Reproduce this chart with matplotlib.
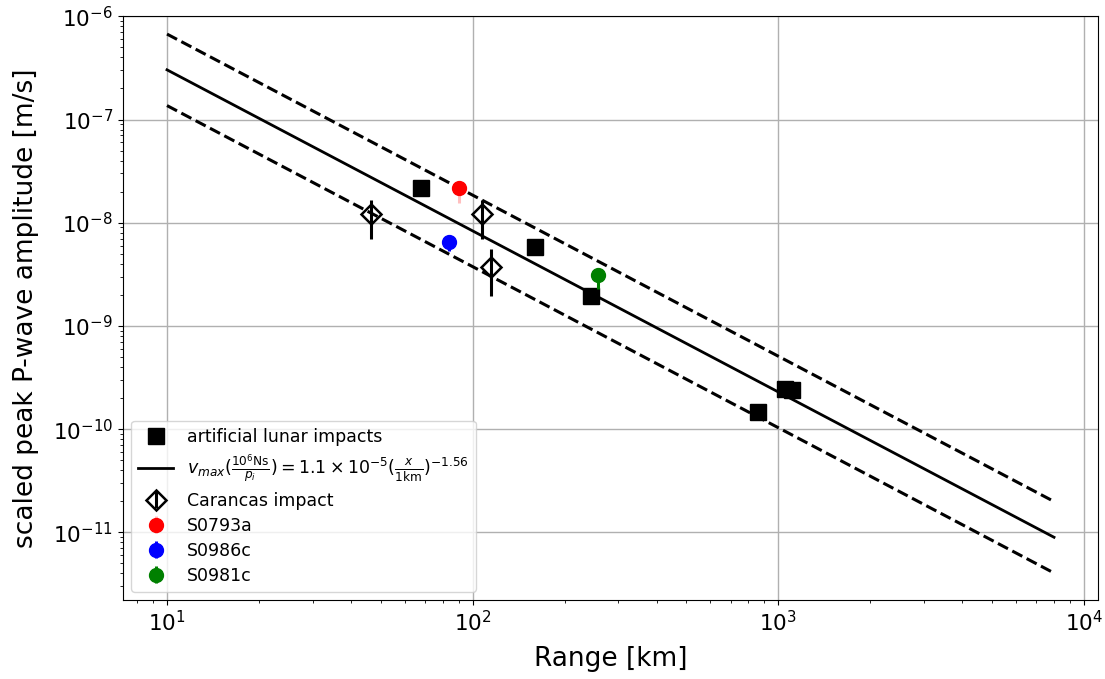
import numpy as np
import matplotlib
matplotlib.use("Agg")
import matplotlib.pyplot as plt

# artificial lunar impacts
art_x = [67.6, 160, 245, 861, 1050, 1110]
art_y = [2.17e-8, 5.85e-9, 1.96e-9, 1.45e-10, 2.45e-10, 2.40e-10]

# Carancas impact
car_x = [46.4, 107, 115]
car_y = [1.22e-8, 1.22e-8, 3.74e-9]
car_lo = [6.97e-9, 6.97e-9, 1.96e-9]
car_hi = [1.66e-8, 1.66e-8, 5.6e-9]

# Marsquakes
events = ["S0793a", "S0986c", "S0981c"]
ev_x = [90, 83.6, 258]
ev_y = [2.17e-8, 6.5e-9, 3.13e-9]
ev_lo = [1.56e-8, 5.33e-9, 2.3e-9]
ev_hi = [2.17e-8, 6.5e-9, 3.13e-9]
ev_colors = ["red", "blue", "green"]
ev_ecolors = [(1.0, 0.0, 0.0, 0.25), "blue", "green"]

# scaling law
coef = 1.1e-5
expo = -1.56
factor = 2.22
x_line = np.logspace(1, np.log10(8000), 200)

fig, ax = plt.subplots(figsize=(11.05, 6.79), dpi=100)

ax.plot(art_x, art_y, 's', color='black', markersize=11, label='artificial lunar impacts', zorder=4)
v = coef * x_line ** expo
ax.plot(x_line, v, '-', color='black', lw=2,
        label=r'$v_{max}(\frac{10^6\mathrm{Ns}}{p_i}) = 1.1 \times 10^{-5} (\frac{x}{1\mathrm{km}})^{-1.56}$')
ax.plot(x_line, v * factor, '--', color='black', lw=2.2)
ax.plot(x_line, v / factor, '--', color='black', lw=2.2)

car_y_a = np.array(car_y)
yerr = [car_y_a - np.array(car_lo), np.array(car_hi) - car_y_a]
ax.errorbar(car_x, car_y, yerr=yerr, fmt='D', color='black', mfc='none',
            markersize=10, mew=1.8, elinewidth=2.2, label='Carancas impact', zorder=5)

for name, x, y, lo, hi, c, ec in zip(events, ev_x, ev_y, ev_lo, ev_hi, ev_colors, ev_ecolors):
    ax.errorbar([x], [y], yerr=[[y - lo], [hi - y]], fmt='o', color=c, ecolor=ec,
                markersize=10, elinewidth=2.2, label=name, zorder=5)

ax.set_xscale('log')
ax.set_yscale('log')
ax.set_ylim(2.2e-12, 1e-6)
ax.grid(True, which='major', color='#b0b0b0', lw=1)
ax.set_axisbelow(True)
ax.tick_params(labelsize=15.5)
ax.set_xlabel('Range [km]', fontsize=19, labelpad=8)
ax.set_ylabel('scaled peak P-wave amplitude [m/s]', fontsize=19, labelpad=10)
ax.legend(loc='lower left', fontsize=12.5, labelspacing=0.4)

fig.subplots_adjust(left=0.111, right=0.994, top=0.976, bottom=0.116)
fig.savefig('out.png', dpi=100)
